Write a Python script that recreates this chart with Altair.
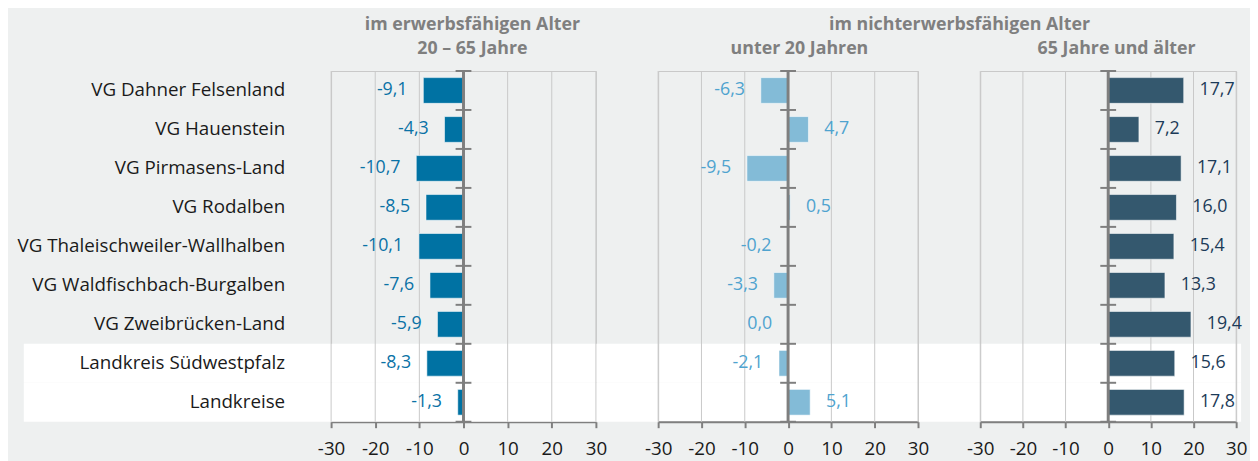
import altair as alt
import pandas as pd

categories = [
    "VG Dahner Felsenland",
    "VG Hauenstein",
    "VG Pirmasens-Land",
    "VG Rodalben",
    "VG Thaleischweiler-Wallhalben",
    "VG Waldfischbach-Burgalben",
    "VG Zweibrücken-Land",
    "Landkreis Südwestpfalz",
    "Landkreise",
]
erwerb = [-9.1, -4.3, -10.7, -8.5, -10.1, -7.6, -5.9, -8.3, -1.3]
unter20 = [-6.3, 4.7, -9.5, 0.5, -0.2, -3.3, 0.0, -2.1, 5.1]
ueber65 = [17.7, 7.2, 17.1, 16.0, 15.4, 13.3, 19.4, 15.6, 17.8]
tick_values = [-30, -20, -10, 0, 10, 20, 30]
band_rows = ["Landkreis Südwestpfalz", "Landkreise"]

title1 = ["im erwerbsfähigen Alter", "20 – 65 Jahre"]
title_group = "im nichterwerbsfähigen Alter"
title2 = "unter 20 Jahren"
title3 = "65 Jahre und älter"

FONT = "Open Sans"
GRAY = "#7f7f7f"
GRID = "#c8c8c8"
TEXT = "#1a1a1a"
H = 355


def fmt(v):
    return f"{v:.1f}".replace(".", ",")


def text_layer(s, px, py):
    return alt.Chart(pd.DataFrame({"t": [s]})).mark_text(
        font=FONT, fontSize=18, fontWeight="bold", color=GRAY,
        align="center", baseline="alphabetic", clip=False,
    ).encode(x=alt.value(px), y=alt.value(py), text="t:N")


def panel(values, width, bar_color, label_color, show_y, titles, band=False):
    df = pd.DataFrame({"cat": categories, "v": values, "label": [fmt(v) for v in values]})
    xs = alt.Scale(domain=[-30, 30], nice=False, zero=False)
    ys = alt.Scale(domain=categories, paddingInner=0, paddingOuter=0)
    if show_y:
        yax = alt.Axis(title=None, domain=False, ticks=False, labelPadding=47,
                       labelFontSize=19, labelColor=TEXT, labelFont=FONT, labelLimit=400)
    else:
        yax = None
    xax = alt.Axis(values=tick_values, grid=False, domainColor=GRAY, domainWidth=2,
                   tickColor=GRAY, tickWidth=2, tickSize=6, labelFontSize=19,
                   labelColor=TEXT, labelFont=FONT, labelPadding=12,
                   labelExpr="'' + datum.value", title=None, labelFlush=False,
                   labelOverlap=False)
    Y = alt.Y("cat:N", scale=ys, axis=yax, title=None, sort=categories)
    layers = []
    if band:
        rect = alt.Chart(pd.DataFrame({"cat": band_rows})).mark_rect(
            color="white", clip=False
        ).encode(y=Y, x=alt.value(-311), x2=alt.value(921))
        layers.append(rect)
    grid = alt.Chart(pd.DataFrame({"t": tick_values})).mark_rule(
        color=GRID, strokeWidth=1
    ).encode(x=alt.X("t:Q", scale=xs, axis=xax))
    layers.append(grid)
    bars = alt.Chart(df).mark_bar(
        color=bar_color, height={"band": 0.66}, stroke="white",
        strokeOpacity=0.55, strokeWidth=1,
    ).encode(y=Y, x=alt.X("v:Q", scale=xs, axis=xax), x2=alt.datum(0))
    layers.append(bars)
    zero = alt.Chart(pd.DataFrame({"z": [0]})).mark_rule(
        color=GRAY, strokeWidth=3
    ).encode(x=alt.X("z:Q", scale=xs, axis=xax))
    layers.append(zero)
    ticks = alt.Chart(df).mark_rule(
        color=GRAY, strokeWidth=2, xOffset=-8, x2Offset=8
    ).encode(
        y=alt.Y("cat:N", scale=ys, axis=yax, title=None, sort=categories, bandPosition=0),
        x=alt.datum(0), x2=alt.datum(0),
    )
    layers.append(ticks)
    ticks_end = alt.Chart(df.tail(1)).mark_rule(
        color=GRAY, strokeWidth=2, xOffset=-8, x2Offset=8
    ).encode(
        y=alt.Y("cat:N", scale=ys, axis=yax, title=None, sort=categories, bandPosition=1),
        x=alt.datum(0), x2=alt.datum(0),
    )
    layers.append(ticks_end)
    neg = alt.Chart(df).transform_filter("datum.v <= 0").mark_text(
        align="right", baseline="middle", dx=-16, font=FONT, fontSize=18, color=label_color
    ).encode(y=Y, x=alt.X("v:Q", scale=xs, axis=xax), text="label:N")
    pos = alt.Chart(df).transform_filter("datum.v > 0").mark_text(
        align="left", baseline="middle", dx=16, font=FONT, fontSize=18, color=label_color
    ).encode(y=Y, x=alt.X("v:Q", scale=xs, axis=xax), text="label:N")
    layers += [neg, pos]
    for s, px, py in titles:
        layers.append(text_layer(s, px, py))
    return alt.layer(*layers).properties(width=width, height=H)


p1 = panel(erwerb, 268, "#0072a3", "#0a72a6", True,
           [(title1[0], 143, -41), (title1[1], 143, -17)], band=True)
p2 = panel(unter20, 263, "#83bbd7", "#4fa3cf", False,
           [(title_group, 305, -41), (title2, 143, -17)])
p3 = panel(ueber65, 259, "#34586e", "#1c3b58", False,
           [(title3, 138, -17)])

chart = alt.hconcat(p1, p2, p3, spacing=63, bounds="flush").properties(
    padding={"left": 8, "top": 5, "right": 2, "bottom": 2}
).configure(background="#eef0f0", font=FONT).configure_view(
    stroke=GRID, strokeWidth=1
)

chart.save("out.html", embed_options={"renderer": "svg", "actions": False})
